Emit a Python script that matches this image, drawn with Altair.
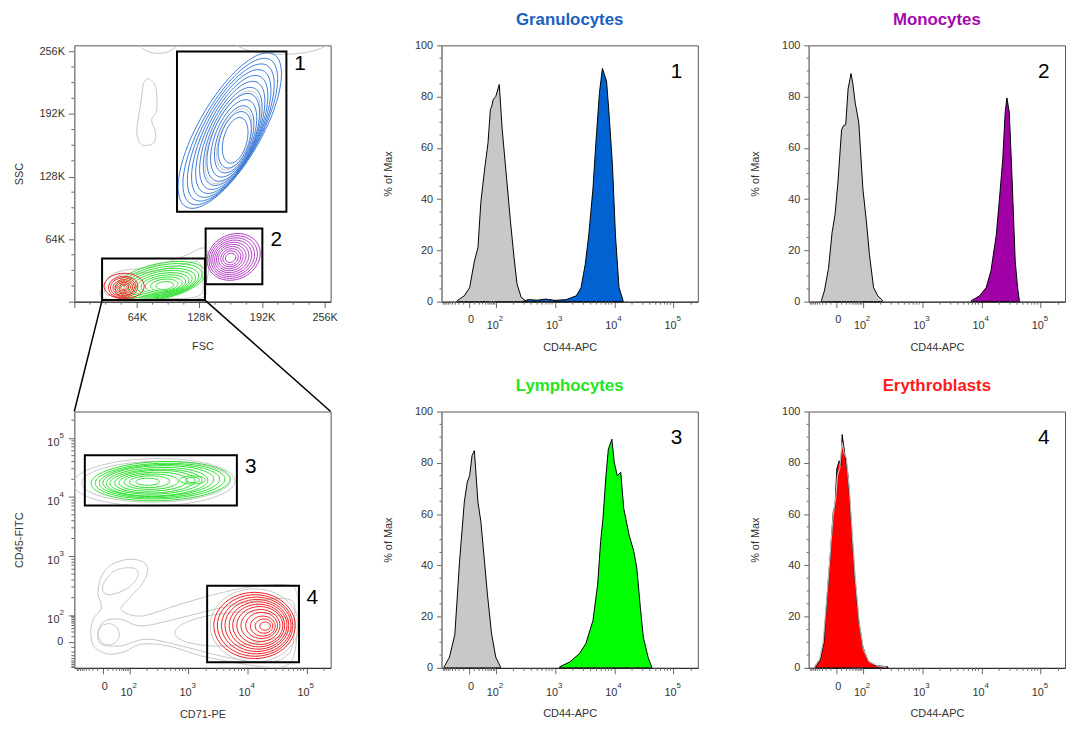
import altair as alt
import numpy as np
import pandas as pd

FONT = "Liberation Sans"
W = 259
H = 259
ROW_GAP = 111

# ---------------- Histograms (x: display decades, 0 -> 1.55, 10^k -> k ; y: % of Max)
GRAN_CTRL_X = [1.35, 1.47, 1.56, 1.64, 1.70, 1.75, 1.82, 1.87, 1.91, 1.93, 1.96, 2.00, 2.06, 2.11, 2.18, 2.25, 2.31, 2.36, 2.43, 2.50]
GRAN_CTRL_Y = [0.4, 2.3, 5.5, 15.8, 21, 39, 53, 62, 75, 76, 79, 80, 84.7, 67, 49, 31, 17, 6.8, 1.7, 0.4]
GRAN_SAMP_X = [2.45, 2.55, 2.70, 2.85, 3.00, 3.19, 3.36, 3.44, 3.51, 3.57, 3.64, 3.69, 3.75, 3.80, 3.87, 3.91, 3.97, 4.02, 4.08, 4.15]
GRAN_SAMP_Y = [0.0, 0.8, 0.6, 1.0, 0.5, 0.8, 2.3, 5.5, 14.5, 26, 44, 62, 81.5, 91, 86, 74, 53, 26, 5.5, 0.4]

MONO_CTRL_X = [1.30, 1.35, 1.42, 1.48, 1.53, 1.58, 1.64, 1.67, 1.71, 1.75, 1.80, 1.83, 1.87, 1.93, 2.00, 2.06, 2.11, 2.18, 2.25, 2.31, 2.33]
MONO_CTRL_Y = [0.4, 4.2, 13, 27, 34, 47, 67, 68.6, 69, 83, 89, 85, 77.6, 70, 44, 31, 18.4, 5.5, 2.3, 1, 0.4]
MONO_SAMP_X = [3.83, 3.97, 4.08, 4.16, 4.25, 4.30, 4.36, 4.40, 4.43, 4.47, 4.51, 4.57, 4.61, 4.64]
MONO_SAMP_Y = [0.4, 2.3, 5.5, 12, 26, 39, 55.7, 73.7, 79.5, 73.7, 52, 15.8, 5.5, 0.4]

LYMPH_CTRL_X = [1.13, 1.22, 1.31, 1.39, 1.47, 1.52, 1.56, 1.60, 1.64, 1.70, 1.75, 1.81, 1.86, 1.93, 2.00, 2.08]
LYMPH_CTRL_Y = [0.4, 4.2, 13, 41.6, 64.7, 72.5, 75, 82.8, 84.7, 64.7, 57, 41.6, 28.7, 13.3, 4.2, 0.4]
LYMPH_SAMP_X = [3.08, 3.25, 3.41, 3.52, 3.64, 3.72, 3.77, 3.81, 3.86, 3.90, 3.96, 4.00, 4.05, 4.11, 4.16, 4.25, 4.33, 4.38, 4.44, 4.49, 4.57, 4.63]
LYMPH_SAMP_Y = [0.4, 2.3, 5.5, 9.4, 18.4, 32.6, 49.3, 58.3, 75, 85.3, 89.2, 80.2, 75, 76.3, 62.2, 51.9, 45.4, 39, 23.6, 12, 4.2, 0.4]

ERY_SAMP_X = [1.20, 1.28, 1.34, 1.39, 1.45, 1.50, 1.53, 1.56, 1.60, 1.63, 1.65, 1.70, 1.75, 1.81, 1.86, 1.93, 2.00, 2.08, 2.19, 2.42]
ERY_SAMP_Y = [0.4, 3, 9.4, 26, 44, 61, 63.4, 77.6, 80.8, 79, 91, 82.6, 75, 54.4, 36.4, 18.4, 8.1, 3, 1, 0.4]
ERY_CTRL_X = [1.18, 1.27, 1.33, 1.39, 1.45, 1.50, 1.54, 1.57, 1.61, 1.65, 1.68, 1.72, 1.77, 1.82, 1.87, 1.94, 2.01, 2.10, 2.25, 2.40]
ERY_CTRL_Y = [0.4, 3.5, 10, 27, 45, 60, 66, 75, 78, 88, 84, 82, 70, 52, 35, 17, 7, 2.5, 0.8, 0.3]

# ---------------- Logicle-style axis ticks (display decades)
ZERO_POS = 1.55
MAJOR_TICKS = [1.55, 2, 3, 4, 5]
MINOR_TICKS = [1.12, 1.14, 1.17, 1.20, 1.23, 1.27, 1.32, 1.38, 1.46,
               1.64, 1.72, 1.78, 1.83, 1.87, 1.90, 1.93, 1.96, 1.98,
               2.30, 2.48, 2.60, 2.70, 2.78, 2.85, 2.90, 2.95,
               3.30, 3.48, 3.60, 3.70, 3.78, 3.85, 3.90, 3.95,
               4.30, 4.48, 4.60, 4.70, 4.78, 4.85, 4.90, 4.95, 5.30]
DECADES = [2, 3, 4, 5]
DECADE_SUP = ["2", "3", "4", "5"]

# ---------------- FSC/SSC plot (thousands)
LIN_MAJOR = [0, 64, 128, 192, 256]
LIN_MINOR = [16, 32, 48, 80, 96, 112, 144, 160, 176, 208, 224, 240]
PCT_MAJOR = [0, 20, 40, 60, 80, 100]
PCT_MINOR = [5, 10, 15, 25, 30, 35, 45, 50, 55, 65, 70, 75, 85, 90, 95]

BLUE_CX = [159, 159.5, 160, 160.5, 161, 161.5, 162, 162.5, 163, 163.5, 164, 164.5]
BLUE_CY = [175, 174, 173, 172, 171, 170, 169, 168, 167, 166, 165.5, 165]
BLUE_A = [90, 84, 78, 72, 66, 60, 54, 48, 42, 36, 30, 24]
BLUE_B = [32, 30, 28.5, 27, 25.5, 24, 22.5, 21, 19, 17, 15, 12]
BLUE_ANG = [60, 61, 62, 63, 64, 65, 66, 67, 68, 70, 72, 75]

PURP_CX = [163, 162.5, 162, 161.5, 161, 160.5, 160, 160, 159.8, 159.8]
PURP_CY = [45.8, 45.6, 45.5, 45.3, 45.2, 45.1, 45, 44.9, 44.8, 44.8]
PURP_A = [28, 25.5, 23, 20.5, 18, 15.5, 13, 10.5, 8, 5.5]
PURP_B = [23, 21, 19, 17, 15, 13, 11, 9, 7, 4.5]
PURP_ANG = [25, 25, 25, 25, 25, 25, 25, 25, 25, 25]

RED1_CX = [51, 50, 50, 50.5, 50.5, 50.5, 50.5, 50.5]
RED1_CY = [16, 15, 15, 14.5, 14.5, 14.5, 14.5, 14.5]
RED1_A = [20.5, 15, 13, 11, 9, 7, 5, 3]
RED1_B = [13, 11, 9.5, 8, 6.5, 5, 3.5, 2.2]
RED1_ANG = [0, 5, 5, 5, 5, 5, 5, 5]

GRN1_CX = [88, 88.5, 89, 89.5, 90, 90.5, 91, 91.5, 92, 92.5]
GRN1_CY = [21, 20.5, 20, 19.5, 19, 18.5, 18, 17.5, 17, 16.5]
GRN1_A = [47, 43, 39, 35, 31, 27, 23, 19, 14, 9]
GRN1_B = [18, 16.5, 15, 13.5, 12, 10.5, 9, 7.5, 6, 4]
GRN1_ANG = [12, 12, 11, 10, 10, 9, 8, 7, 6, 5]

GRAY1_CX = [162, 163.5, 86, 212]
GRAY1_CY = [168, 166, 266, 268]
GRAY1_A = [51, 33, 20, 50]
GRAY1_B = [21, 15, 12, 15]
GRAY1_ANG = [66, 70, 0, 0]

GRAY_TL_ENV1_X = [29.4, 31.4, 38.8, 52.2, 72.4, 95.9, 116.1, 132.9, 138.0, 134.6, 129.5, 79.1]
GRAY_TL_ENV1_Y = [3.7, 18.8, 27.9, 32.3, 34.7, 40.7, 48.2, 54.9, 40.7, 17.2, 3.7, 1.7]
GRAY_TL_ENV2_X = [33.8, 37.1, 48.9, 75.8, 102.6, 126.2, 131.2, 126.2, 79.1]
GRAY_TL_ENV2_Y = [6.8, 20.3, 27.8, 29.9, 35.6, 40.7, 23.9, 5.4, 3.7]
GRAY_TL_BLOB_X = [75.8, 83.2, 84.2, 79.1, 83.2, 80.8, 69.0, 64.0, 65.7, 68.4, 70.7]
GRAY_TL_BLOB_Y = [227.8, 219.4, 195.8, 185.7, 172.2, 162.1, 160.4, 172.2, 189.0, 205.8, 222.7]

TL_GATE_X1 = [105.0, 134.3, 28.4]
TL_GATE_X2 = [216.9, 192.3, 133.6]
TL_GATE_Y1 = [92.0, 17.8, 1.6]
TL_GATE_Y2 = [255.8, 74.8, 44.1]
TL_GATE_TEXT = ["1", "2"]
TL_GATE_TX = [224.8, 200.6]
TL_GATE_TY = [243, 63]

ZOOM_X = [28.4, 133.6]
ZOOM_Y = [1.6, 1.6]
ZOOM_X2 = [0, 262.144]
ZOOM_Y2 = [-112.3, -112.3]

# ---------------- CD71 / CD45 plot (display decades)
GRN2_CX = [2.53, 2.52, 2.51, 2.49, 2.47, 2.45, 2.43, 2.40, 2.37, 2.34, 2.31, 3.07, 3.07]
GRN2_CY = [4.27, 4.27, 4.27, 4.27, 4.26, 4.26, 4.26, 4.26, 4.26, 4.26, 4.26, 4.29, 4.29]
GRN2_A = [1.18, 1.10, 1.02, 0.94, 0.86, 0.78, 0.68, 0.58, 0.46, 0.34, 0.20, 0.22, 0.12]
GRN2_B = [0.33, 0.30, 0.28, 0.26, 0.24, 0.21, 0.19, 0.16, 0.13, 0.10, 0.06, 0.07, 0.045]
GRN2_ANG = [2, 2, 2, 2, 2, 2, 2, 2, 1, 1, 0, 0, 0]

RED2_CX = [4.12, 4.13, 4.15, 4.16, 4.18, 4.19, 4.21, 4.22, 4.24, 4.26, 4.28, 4.30]
RED2_CY = [1.83, 1.83, 1.83, 1.83, 1.83, 1.83, 1.83, 1.83, 1.83, 1.82, 1.82, 1.82]
RED2_A = [0.69, 0.64, 0.59, 0.54, 0.49, 0.44, 0.39, 0.33, 0.27, 0.21, 0.15, 0.09]
RED2_B = [0.56, 0.52, 0.48, 0.44, 0.40, 0.36, 0.32, 0.27, 0.22, 0.17, 0.12, 0.07]
RED2_ANG = [0, 0, 0, 0, 0, 0, 0, 0, 0, 0, 0, 0]

GRAY2_CX = [2.42, 2.45, 1.648, 3.77, 4.12]
GRAY2_CY = [4.25, 4.26, 1.682, 1.77, 1.83]
GRAY2_A = [1.37, 1.26, 0.18, 1.0, 0.75]
GRAY2_B = [0.40, 0.345, 0.18, 0.28, 0.62]
GRAY2_ANG = [1, 1, 0, 4, 0]

GRAY_BL_OUT_X = [1.345, 1.384, 1.524, 1.468, 1.524, 1.692, 1.973, 2.225, 2.309, 2.225, 2.029, 1.861, 2.197, 2.757, 3.429, 4.101, 4.661, 4.829, 4.857, 4.801, 4.661, 4.325, 3.765, 3.205, 2.645, 2.197, 1.917, 1.636, 1.412]
GRAY_BL_OUT_Y = [1.682, 1.933, 2.128, 2.379, 2.658, 2.853, 2.948, 2.909, 2.769, 2.546, 2.323, 2.100, 1.989, 2.156, 2.351, 2.491, 2.518, 2.407, 1.989, 1.376, 1.153, 1.125, 1.208, 1.320, 1.487, 1.515, 1.387, 1.348, 1.459]
GRAY_BL_LOBE_X = [1.580, 1.776, 2.084, 2.141, 1.973, 1.692, 1.552]
GRAY_BL_LOBE_Y = [2.574, 2.769, 2.797, 2.658, 2.463, 2.351, 2.407]
GRAY_BL_BAND_X = [1.468, 1.580, 1.861, 2.197, 2.757, 3.429, 4.101, 4.717, 4.801, 4.717, 4.325, 3.653, 2.981, 2.309, 1.861, 1.524]
GRAY_BL_BAND_Y = [1.710, 1.905, 1.933, 1.822, 1.933, 2.100, 2.240, 2.268, 1.933, 1.376, 1.208, 1.292, 1.459, 1.599, 1.487, 1.515]

BL_GATE_X1 = [1.244, 3.317]
BL_GATE_X2 = [3.821, 4.874]
BL_GATE_Y1 = [3.856, 1.208]
BL_GATE_Y2 = [4.709, 2.502]
BL_GATE_TEXT = ["3", "4"]
BL_GATE_TX = [3.96, 5.0]
BL_GATE_TY = [4.51, 2.30]

# ---------------- colours
BLUE_LINE, PURPLE_LINE, GREEN_LINE, RED_LINE, GRAY_LINE = "#3d7bd9", "#b43cc4", "#2ee02e", "#f02020", "#c6c6c6"
CTRL_FILL = "#c8c8c8"
TICK_COLOR = "#666"
TXT = "#333"


def rings(name, cx, cy, a, b, ang, color, n=24):
    rows = []
    for i in range(len(cx)):
        t = np.deg2rad(ang[i])
        for k in range(n):
            p = 2 * np.pi * k / n
            ex, ey = a[i] * np.cos(p), b[i] * np.sin(p)
            rows.append({"ring": f"{name}{i}", "k": k,
                         "x": cx[i] + ex * np.cos(t) - ey * np.sin(t),
                         "y": cy[i] + ex * np.sin(t) + ey * np.cos(t),
                         "col": color})
    return rows


def outline(name, xs, ys, color):
    return [{"ring": name, "k": k, "x": x, "y": y, "col": color} for k, (x, y) in enumerate(zip(xs, ys))]


def contour_layer(rows, xs, ys):
    return alt.Chart(pd.DataFrame(rows)).mark_line(
        interpolate="cardinal-closed", clip=True, strokeWidth=1
    ).encode(
        x=alt.X("x:Q", scale=xs),
        y=alt.Y("y:Q", scale=ys),
        color=alt.Color("col:N", scale=None),
        detail="ring:N",
        order="k:Q",
    )


def in_dom(vals, dom):
    return [v for v in vals if dom[0] <= v <= dom[1]]


def minor_x(values, xs, length=3):
    return alt.Chart(pd.DataFrame({"x": values})).mark_rule(color=TICK_COLOR, strokeWidth=1).encode(
        x=alt.X("x:Q", scale=xs), y=alt.value(H), y2=alt.value(H + length))


def minor_y(values, ys, length=3):
    return alt.Chart(pd.DataFrame({"y": values})).mark_rule(color=TICK_COLOR, strokeWidth=1).encode(
        y=alt.Y("y:Q", scale=ys), x=alt.value(0), x2=alt.value(-length))


def log_x_labels(xs):
    dec = pd.DataFrame({"x": DECADES, "s": DECADE_SUP})
    zero = pd.DataFrame({"x": [ZERO_POS]})
    xe = alt.X("x:Q", scale=xs)
    ten = alt.Chart(dec).mark_text(text="10", font=FONT, fontSize=11, fill=TXT, align="center",
                                   baseline="alphabetic", dx=-3).encode(x=xe, y=alt.value(H + 28))
    sup = alt.Chart(dec).mark_text(font=FONT, fontSize=8, fill=TXT, align="left",
                                   baseline="alphabetic", dx=3).encode(x=xe, y=alt.value(H + 20), text="s:N")
    z = alt.Chart(zero).mark_text(text="0", font=FONT, fontSize=11, fill=TXT, align="center",
                                  baseline="alphabetic", dx=2).encode(x=xe, y=alt.value(H + 22))
    return [ten, sup, z]


def log_y_labels(ys):
    dec = pd.DataFrame({"y": DECADES, "s": DECADE_SUP})
    zero = pd.DataFrame({"y": [ZERO_POS]})
    ye = alt.Y("y:Q", scale=ys)
    ten = alt.Chart(dec).mark_text(text="10", font=FONT, fontSize=11, fill=TXT, align="right",
                                   baseline="alphabetic", dy=8).encode(y=ye, x=alt.value(-15))
    sup = alt.Chart(dec).mark_text(font=FONT, fontSize=8, fill=TXT, align="left",
                                   baseline="alphabetic", dy=0).encode(y=ye, x=alt.value(-15), text="s:N")
    z = alt.Chart(zero).mark_text(text="0", font=FONT, fontSize=11, fill=TXT, align="right",
                                  baseline="middle").encode(y=ye, x=alt.value(-11))
    return [ten, sup, z]


# ================= Histogram panels
H_XDOM = [1.085, 5.41]
H_XS = alt.Scale(domain=H_XDOM, nice=False, zero=False)
H_YS = alt.Scale(domain=[0, 100], nice=False)


def hist_panel(title, tcolor, cx, cy, sx, sy, fill, label, ctrl_line=False):
    x_axis = alt.X("x:Q", scale=H_XS, axis=alt.Axis(
        values=MAJOR_TICKS, labels=False, tickSize=6, title="CD44-APC", titlePadding=34))
    y_axis = alt.Y("y:Q", scale=H_YS, axis=alt.Axis(
        values=PCT_MAJOR, tickSize=5, labelPadding=4, labelOverlap=False,
        title="% of Max", titlePadding=21))
    xe = alt.X("x:Q", scale=H_XS)
    ye = alt.Y("y:Q", scale=H_YS)
    cdf = pd.DataFrame({"x": cx, "y": cy})
    sdf = pd.DataFrame({"x": sx, "y": sy})
    layers = []
    if ctrl_line:
        layers.append(alt.Chart(sdf).mark_area(fill=fill, stroke="black", strokeWidth=1).encode(x=x_axis, y=y_axis))
        layers.append(alt.Chart(cdf).mark_line(color="#b9b9b9", strokeWidth=1.2).encode(x=xe, y=ye))
    else:
        layers.append(alt.Chart(cdf).mark_area(fill=CTRL_FILL, stroke="black", strokeWidth=1).encode(x=x_axis, y=y_axis))
        layers.append(alt.Chart(sdf).mark_area(fill=fill, stroke="black", strokeWidth=1).encode(x=xe, y=ye))
    lab = pd.DataFrame({"x": [5.05], "y": [89.5], "t": [label]})
    layers.append(alt.Chart(lab).mark_text(font=FONT, fontSize=21, fill="black", align="center",
                                           baseline="middle").encode(x=xe, y=ye, text="t:N"))
    layers.append(minor_x(in_dom(MINOR_TICKS, H_XDOM), H_XS))
    layers.append(minor_y(PCT_MINOR, H_YS, 2))
    layers += log_x_labels(H_XS)
    return alt.layer(*layers).properties(
        width=W, height=H,
        title=alt.TitleParams(title, color=tcolor, font=FONT, fontSize=17, fontWeight="bold", offset=11))


gran = hist_panel("Granulocytes", "#1b5fbf", GRAN_CTRL_X, GRAN_CTRL_Y, GRAN_SAMP_X, GRAN_SAMP_Y, "#0063d1", "1")
mono = hist_panel("Monocytes", "#a30aae", MONO_CTRL_X, MONO_CTRL_Y, MONO_SAMP_X, MONO_SAMP_Y, "#a000a6", "2")
lymph = hist_panel("Lymphocytes", "#1ee61e", LYMPH_CTRL_X, LYMPH_CTRL_Y, LYMPH_SAMP_X, LYMPH_SAMP_Y, "#00ff00", "3")
ery = hist_panel("Erythroblasts", "#ff1a1a", ERY_CTRL_X, ERY_CTRL_Y, ERY_SAMP_X, ERY_SAMP_Y, "#ff0000", "4", ctrl_line=True)

# ================= FSC / SSC panel
TL_DOM = [0, 262.144]
TL_XS = alt.Scale(domain=TL_DOM, nice=False, zero=False)
TL_YS = alt.Scale(domain=TL_DOM, nice=False, zero=False)
LIN_LABEL = "datum.value > 0 ? datum.value + 'K' : ''"

tl_gates = pd.DataFrame({"x": TL_GATE_X1, "x2": TL_GATE_X2, "y": TL_GATE_Y1, "y2": TL_GATE_Y2})
tl_gate_layer = alt.Chart(tl_gates).mark_rect(fillOpacity=0, stroke="black", strokeWidth=2).encode(
    x=alt.X("x:Q", scale=TL_XS, axis=alt.Axis(values=LIN_MAJOR, labelExpr=LIN_LABEL, tickSize=6,
                                               labelOverlap=False, labelFlush=False, labelPadding=4,
                                               title="FSC", titlePadding=18)),
    x2="x2:Q",
    y=alt.Y("y:Q", scale=TL_YS, axis=alt.Axis(values=LIN_MAJOR, labelExpr=LIN_LABEL, tickSize=6,
                                               labelOverlap=False, labelFlush=False, labelPadding=4,
                                               title="SSC", titlePadding=15)),
    y2="y2:Q",
)
tl_rows_gray = (rings("g1_", GRAY1_CX, GRAY1_CY, GRAY1_A, GRAY1_B, GRAY1_ANG, GRAY_LINE)
                + outline("ge1", GRAY_TL_ENV1_X, GRAY_TL_ENV1_Y, GRAY_LINE)
                + outline("ge2", GRAY_TL_ENV2_X, GRAY_TL_ENV2_Y, GRAY_LINE)
                + outline("gb", GRAY_TL_BLOB_X, GRAY_TL_BLOB_Y, GRAY_LINE))
tl_rows_col = (rings("b_", BLUE_CX, BLUE_CY, BLUE_A, BLUE_B, BLUE_ANG, BLUE_LINE)
               + rings("p_", PURP_CX, PURP_CY, PURP_A, PURP_B, PURP_ANG, PURPLE_LINE)
               + rings("gr_", GRN1_CX, GRN1_CY, GRN1_A, GRN1_B, GRN1_ANG, GREEN_LINE)
               + rings("r_", RED1_CX, RED1_CY, RED1_A, RED1_B, RED1_ANG, RED_LINE))
tl_text = pd.DataFrame({"x": TL_GATE_TX, "y": TL_GATE_TY, "t": TL_GATE_TEXT})
tl_text_layer = alt.Chart(tl_text).mark_text(font=FONT, fontSize=21, fill="black", align="left",
                                             baseline="middle").encode(
    x=alt.X("x:Q", scale=TL_XS), y=alt.Y("y:Q", scale=TL_YS), text="t:N")
zoom_df = pd.DataFrame({"x": ZOOM_X, "y": ZOOM_Y, "x2": ZOOM_X2, "y2": ZOOM_Y2})
zoom_layer = alt.Chart(zoom_df).mark_rule(color="black", strokeWidth=1.5).encode(
    x=alt.X("x:Q", scale=TL_XS), y=alt.Y("y:Q", scale=TL_YS), x2="x2:Q", y2="y2:Q")

tl = alt.layer(
    contour_layer(tl_rows_gray, TL_XS, TL_YS),
    contour_layer(tl_rows_col, TL_XS, TL_YS),
    tl_gate_layer,
    tl_text_layer,
    zoom_layer,
    minor_x(LIN_MINOR, TL_XS),
    minor_y(LIN_MINOR, TL_YS),
).properties(width=W, height=H)

# ================= CD71 / CD45 panel
BL_XDOM = [1.066, 5.41]
BL_YDOM = [1.114, 5.446]
BL_XS = alt.Scale(domain=BL_XDOM, nice=False, zero=False)
BL_YS = alt.Scale(domain=BL_YDOM, nice=False, zero=False)

bl_gates = pd.DataFrame({"x": BL_GATE_X1, "x2": BL_GATE_X2, "y": BL_GATE_Y1, "y2": BL_GATE_Y2})
bl_axis_layer = alt.Chart(bl_gates).mark_rect(fillOpacity=0, stroke="black", strokeWidth=2).encode(
    x=alt.X("x:Q", scale=BL_XS, axis=alt.Axis(values=MAJOR_TICKS, labels=False, tickSize=6,
                                               title="CD71-PE", titlePadding=35)),
    x2="x2:Q",
    y=alt.Y("y:Q", scale=BL_YS, axis=alt.Axis(values=MAJOR_TICKS, labels=False, tickSize=6,
                                               title="CD45-FITC", titlePadding=44)),
    y2="y2:Q",
)
bl_rows_gray = (rings("g2_", GRAY2_CX, GRAY2_CY, GRAY2_A, GRAY2_B, GRAY2_ANG, GRAY_LINE)
                + outline("go", GRAY_BL_OUT_X, GRAY_BL_OUT_Y, GRAY_LINE)
                + outline("gl", GRAY_BL_LOBE_X, GRAY_BL_LOBE_Y, GRAY_LINE)
                + outline("gband", GRAY_BL_BAND_X, GRAY_BL_BAND_Y, GRAY_LINE))
bl_rows_col = (rings("gr2_", GRN2_CX, GRN2_CY, GRN2_A, GRN2_B, GRN2_ANG, GREEN_LINE)
               + rings("r2_", RED2_CX, RED2_CY, RED2_A, RED2_B, RED2_ANG, RED_LINE))
bl_text = pd.DataFrame({"x": BL_GATE_TX, "y": BL_GATE_TY, "t": BL_GATE_TEXT})
bl_text_layer = alt.Chart(bl_text).mark_text(font=FONT, fontSize=21, fill="black", align="left",
                                             baseline="middle").encode(
    x=alt.X("x:Q", scale=BL_XS), y=alt.Y("y:Q", scale=BL_YS), text="t:N")

bl = alt.layer(
    contour_layer(bl_rows_gray, BL_XS, BL_YS),
    contour_layer(bl_rows_col, BL_XS, BL_YS),
    bl_axis_layer,
    bl_text_layer,
    minor_x(in_dom(MINOR_TICKS, BL_XDOM), BL_XS),
    minor_y(in_dom(MINOR_TICKS, BL_YDOM), BL_YS),
    *log_x_labels(BL_XS),
    *log_y_labels(BL_YS),
).properties(width=W, height=H)

chart = alt.concat(
    tl, gran, mono, bl, lymph, ery,
    columns=3, spacing={"row": ROW_GAP, "column": 112}, bounds="flush",
).properties(
    padding={"left": 4, "top": -2, "right": 0, "bottom": 0}
).configure_view(
    stroke="#555", strokeWidth=1
).configure_axis(
    labelFont=FONT, titleFont=FONT, labelFontSize=11, titleFontSize=11,
    labelColor=TXT, titleColor=TXT, titleFontWeight="normal",
    tickColor=TICK_COLOR, domainColor="#888", grid=False,
).configure_axisX(domainColor="#222")

chart.save("out.html", embed_options={"renderer": "svg", "actions": False})
